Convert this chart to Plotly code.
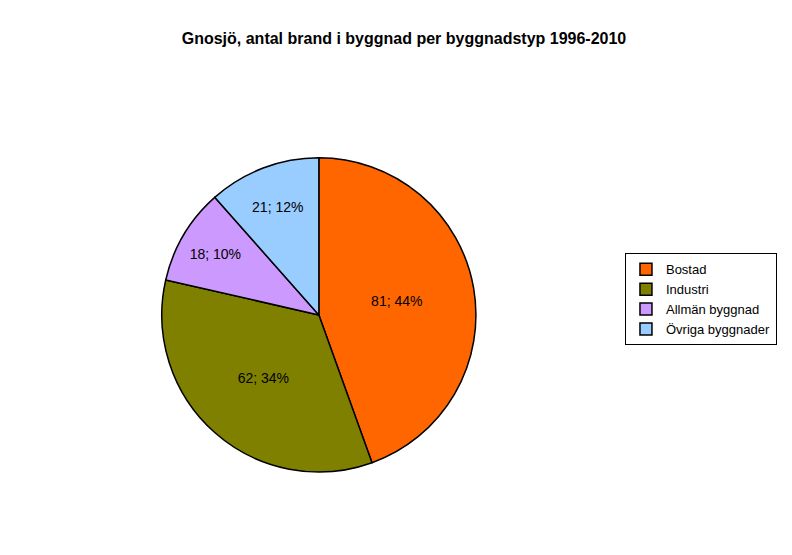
import plotly.graph_objects as go

categories = ["Bostad", "Industri", "Allmän byggnad", "Övriga byggnader"]
values = [81, 62, 18, 21]
percent_labels = ["44%", "34%", "10%", "12%"]
colors = ["#FF6600", "#808000", "#CC99FF", "#99CCFF"]

texts = [f"{v}; {p}" for v, p in zip(values, percent_labels)]

fig = go.Figure(go.Pie(
    labels=categories, values=values, text=texts, textinfo="text",
    textposition="inside", insidetextorientation="horizontal",
    sort=False, direction="clockwise", rotation=0,
    marker=dict(colors=colors, line=dict(color="black", width=1.5)),
    textfont=dict(family="Arial, Liberation Sans", size=14, color="black"),
    domain=dict(x=[0.194, 0.591], y=[0.164, 0.730]),
    hoverinfo="label+value",
))
fig.update_layout(
    width=792, height=555, margin=dict(l=0, r=0, t=0, b=0),
    paper_bgcolor="white", plot_bgcolor="white",
    title=dict(text="<b>Gnosjö, antal brand i byggnad per byggnadstyp 1996-2010</b>",
               x=0.5, xanchor="center", y=0.945, yanchor="middle",
               font=dict(family="Arial, Liberation Sans", size=16, color="black")),
    legend=dict(x=0.779, xanchor="left", y=0.558, yanchor="top",
                bordercolor="black", borderwidth=1, bgcolor="white",
                font=dict(family="Arial, Liberation Sans", size=13, color="black"),
                tracegroupgap=8, itemwidth=30),
)
fig.write_html("out.html")
